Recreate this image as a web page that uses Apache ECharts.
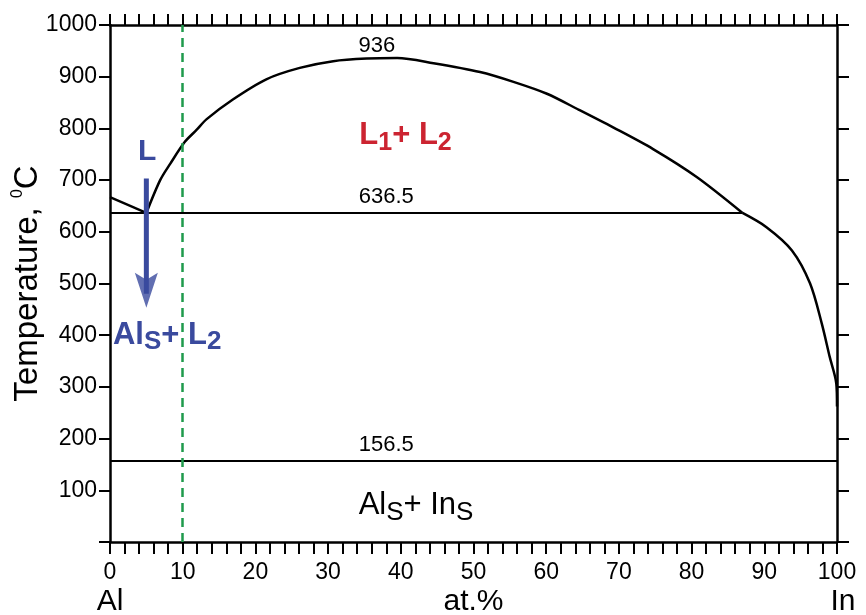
<!DOCTYPE html>
<html>
<head>
<meta charset="utf-8">
<title>Al-In</title>
<script src="https://cdn.jsdelivr.net/npm/echarts@6/dist/echarts.min.js"></script>
<style>
  html, body { margin: 0; padding: 0; background: #fff; }
  #chart { width: 866px; height: 615px; }
</style>
</head>
<body>
<div id="chart"></div>
<script>
// at.% In, temperature in °C
var alLiquidus = [[0, 667], [5, 636.5]]
var gapCurve = [
  [5, 636.5], [6.9, 700], [8.3, 732], [10.3, 774], [11.9, 797], [13.3, 818],
  [16.9, 856], [21.5, 895], [26.1, 917], [30.7, 930], [35.3, 935], [39.5, 936],
  [44.5, 926], [50.9, 909], [55.5, 890], [60.1, 867], [64.5, 836], [69.2, 802],
  [74.7, 760], [80.7, 706], [87, 636.5]
]
var inLiquidus = [
  [87, 636.5], [90.3, 609], [93.8, 564], [96.3, 500], [97.9, 423],
  [99, 358], [99.9, 307], [100, 262]
]
var monotectic = [[0, 636.5], [87, 636.5]]
var eutectic = [[0, 156.5], [100, 156.5]]
var arrowShaft = [[5, 703], [5, 480]]
var arrowHead = [[5, 487]]
var alloyLine = 10

var black = '#000'
var blue = '#3a4a9e'
var red = '#cc2431'
var font = 'Liberation Sans, Arial, sans-serif'

var chart = echarts.init(document.getElementById('chart'))

function lineSeries(data, width, smooth) {
  return {
    type: 'line',
    data: data,
    symbol: 'none',
    smooth: smooth || false,
    lineStyle: { color: black, width: width },
    silent: true,
    z: 3
  }
}

function frameAxis(pos, len) {
  return {
    type: 'value', position: pos,
    axisLine: { onZero: false, lineStyle: { color: black, width: 2.5 } },
    axisTick: { length: len, lineStyle: { color: black, width: 2 } },
    axisLabel: { show: false },
    splitLine: { show: false }
  }
}

var topAxis = Object.assign(frameAxis('top', 11), { min: 0, max: 100, interval: 2 })
var rightAxis = Object.assign(frameAxis('right', 12), { min: 0, max: 1000, interval: 100 })

function subLabel(text, color, main, sub, bold) {
  var w = bold ? 'bold' : 'normal'
  return {
    text: text,
    fill: color, fontWeight: w,
    rich: {
      m: { fontSize: main, fontWeight: w, fill: color, lineHeight: 40, verticalAlign: 'middle', fontFamily: font },
      s: { fontSize: sub, fontWeight: w, fill: color, lineHeight: 20, verticalAlign: 'bottom', fontFamily: font }
    }
  }
}

chart.setOption({
  backgroundColor: '#fff',
  animation: false,
  grid: { left: 110, right: 29, top: 25, bottom: 73, containLabel: false, outerBoundsMode: 'none' },
  xAxis: [
    {
      type: 'value', min: 0, max: 100, interval: 2, position: 'bottom',
      axisLine: { onZero: false, lineStyle: { color: black, width: 2.5 } },
      axisTick: { length: 12, lineStyle: { color: black, width: 2 } },
      axisLabel: {
        interval: 4, margin: 19, color: black, fontSize: 23, fontFamily: font,
        formatter: function (v) { return v % 10 === 0 ? v : '' }
      },
      splitLine: { show: false }
    },
    topAxis
  ],
  yAxis: [
    {
      type: 'value', min: 0, max: 1000, interval: 100, position: 'left',
      name: 'Temperature, {sup|0}C',
      nameLocation: 'middle', nameRotate: 90, nameGap: 64, nameMoveOverlap: false,
      nameTextStyle: {
        color: black, fontSize: 33, fontFamily: font, lineHeight: 36,
        rich: { sup: { fontSize: 16, fontFamily: font, color: black, lineHeight: 15, verticalAlign: 'top' } }
      },
      axisLine: { onZero: false, lineStyle: { color: black, width: 2.5 } },
      axisTick: { length: 11, lineStyle: { color: black, width: 2 } },
      axisLabel: {
        margin: 13, color: black, fontSize: 23, fontFamily: font,
        formatter: function (v) { return v === 0 ? '' : v }
      },
      splitLine: { show: false }
    },
    rightAxis
  ],
  series: [
    lineSeries(alLiquidus, 2.3),
    lineSeries(gapCurve, 2.5, 0.3),
    lineSeries(inLiquidus, 2.5, 0.3),
    lineSeries(monotectic, 2),
    lineSeries(eutectic, 2),
    {
      type: 'line',
      data: [],
      silent: true,
      markLine: {
        silent: true,
        symbol: 'none',
        label: { show: false },
        lineStyle: { color: '#1f9a4c', width: 2.5, type: [9, 6] },
        data: [{ xAxis: alloyLine }]
      }
    },
    {
      type: 'line',
      data: arrowShaft,
      symbol: 'none',
      silent: true,
      lineStyle: { color: blue, width: 5 },
      z: 4
    },
    {
      type: 'scatter',
      data: arrowHead,
      silent: true,
      symbol: 'path://M0,0 L11.5,7 L23,0 L11.5,35 Z',
      symbolSize: [23, 35],
      itemStyle: { color: blue },
      z: 4
    }
  ]
})

// annotations anchored in data space
var labels = [
  { at: [36.7, 960], style: { text: '936', fontSize: 22, fill: black } },
  { at: [38, 667], style: { text: '636.5', fontSize: 22, fill: black } },
  { at: [38, 187], style: { text: '156.5', fontSize: 22, fill: black } },
  { at: [5.1, 754], style: { text: 'L', fontSize: 30, fontWeight: 'bold', fill: blue } },
  { at: [34.3, 786], align: 'left', style: subLabel('{m|L}{s|1}{m|+ L}{s|2}', red, 31, 25, true) },
  { at: [0.4, 400], align: 'left', style: subLabel('{m|Al}{s|S}{m|+ L}{s|2}', blue, 31, 26, true) },
  { at: [34.2, 70], align: 'left', style: subLabel('{m|Al}{s|S}{m|+ In}{s|S}', black, 31, 26, false) }
]

var elements = labels.map(function (l) {
  var p = chart.convertToPixel({ xAxisIndex: 0, yAxisIndex: 0 }, l.at)
  var style = Object.assign({
    fontFamily: font,
    textAlign: l.align || 'center', textVerticalAlign: 'middle'
  }, l.style)
  return { type: 'text', x: p[0], y: p[1], style: style, z: 10, silent: true }
})

// element names under the axis
var ends = [
  { at: [0, 0], dx: 0, text: 'Al' },
  { at: [50, 0], dx: 0, text: 'at.%' },
  { at: [100, 0], dx: 6, text: 'In' }
]
ends.forEach(function (e) {
  var p = chart.convertToPixel({ xAxisIndex: 0, yAxisIndex: 0 }, e.at)
  elements.push({
    type: 'text', x: p[0] + e.dx, y: 602, silent: true,
    style: { text: e.text, fontSize: 30, fontFamily: font, fill: black, textAlign: 'center', textVerticalAlign: 'middle' }
  })
})

chart.setOption({ graphic: elements })

window.addEventListener('resize', function () {
  chart.resize()
})
</script>
</body>
</html>
